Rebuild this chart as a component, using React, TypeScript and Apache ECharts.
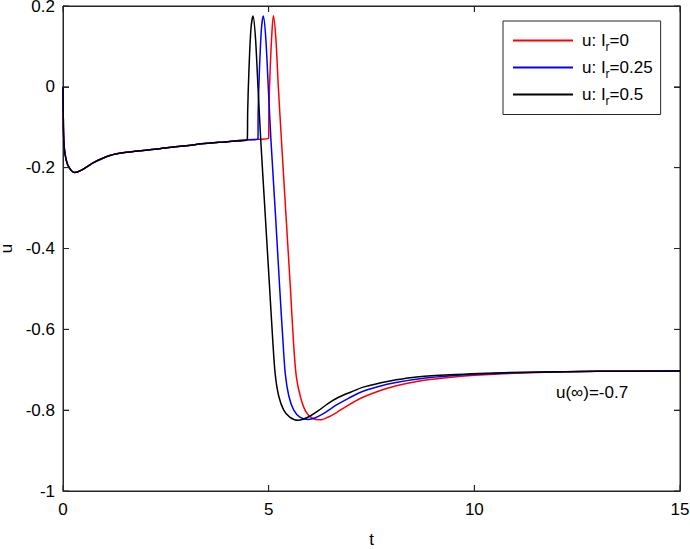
import React, { useEffect, useRef } from "react";
import * as echarts from "echarts";

// Shared early part (all three curves coincide until the first jump)
const commonStart: [number, number][] = [
  [0, 0], [0.01, -0.1], [0.03, -0.15], [0.08, -0.182], [0.15, -0.2], [0.28, -0.212],
  [0.45, -0.206], [0.73, -0.188], [1.14, -0.17], [1.54, -0.162], [2.35, -0.153],
  [3.2, -0.143], [4.05, -0.135], [4.48, -0.131],
];

const blackTail: [number, number][] = [
  [4.49, -0.06], [4.52, 0.04], [4.57, 0.145], [4.62, 0.175], [4.68, 0.12], [4.74, 0.0],
  [4.807, -0.131], [4.916, -0.316], [5.025, -0.501], [5.098, -0.625], [5.159, -0.711],
  [5.244, -0.765], [5.366, -0.8], [5.512, -0.817], [5.71, -0.825], [5.85, -0.822],
  [6.0, -0.815], [6.2, -0.802], [6.45, -0.783], [6.7, -0.768], [7.0, -0.755],
  [7.3, -0.743], [7.7, -0.733], [8.1, -0.725], [8.6, -0.718], [9.3, -0.713],
  [10.1, -0.709], [11.3, -0.706], [13, -0.704], [15, -0.703],
];

const blueTail: [number, number][] = [
  [4.74, -0.13], [4.745, -0.06], [4.775, 0.04], [4.825, 0.145], [4.87, 0.175], [4.93, 0.12],
  [4.99, 0.0], [5.055, -0.131], [5.165, -0.316], [5.27, -0.501], [5.345, -0.625],
  [5.405, -0.711], [5.49, -0.765], [5.61, -0.8], [5.76, -0.817], [5.96, -0.823],
  [6.15, -0.818], [6.4, -0.804], [6.65, -0.787], [6.95, -0.77], [7.25, -0.755],
  [7.65, -0.742], [8.06, -0.732], [8.87, -0.72], [9.69, -0.713], [10.5, -0.709],
  [11.5, -0.706], [13, -0.704], [15, -0.703],
];

const redTail: [number, number][] = [
  [4.74, -0.13], [5.0, -0.127], [5.005, -0.06], [5.035, 0.04], [5.085, 0.145], [5.115, 0.176],
  [5.175, 0.12], [5.235, 0.0], [5.31, -0.131], [5.42, -0.316], [5.53, -0.501],
  [5.6, -0.625], [5.67, -0.715], [5.78, -0.77], [5.91, -0.805], [6.06, -0.82],
  [6.25, -0.824], [6.45, -0.817], [6.65, -0.806], [6.85, -0.793], [7.25, -0.77],
  [7.7, -0.752], [8.06, -0.741], [8.51, -0.731], [8.87, -0.725], [9.69, -0.716],
  [10.5, -0.711], [11.5, -0.707], [13, -0.704], [15, -0.703],
];

const seriesNames = ["u: I_r=0", "u: I_r=0.25", "u: I_r=0.5"];
const legendValues = ["0", "0.25", "0.5"];
const seriesColors = ["#ff0000", "#0000ff", "#000000"];
const seriesData = [
  [...commonStart, ...redTail],
  [...commonStart, ...blueTail],
  [...commonStart, ...blackTail],
];

const xTickValues = [0, 5, 10, 15];
const yTickValues = [-1, -0.8, -0.6, -0.4, -0.2, 0, 0.2];
const xTicks = { min: 0, max: 15, interval: 5 };
const yTicks = { min: -1, max: 0.2, interval: 0.2 };
const annotation = "u(∞)=-0.7";

const FONT = "'Liberation Sans', Arial, Helvetica, sans-serif";
const AXIS_COLOR = "#262626";
const TICK_LEN = 6;

const lineCfg = () => ({ show: true, onZero: false, lineStyle: { color: AXIS_COLOR, width: 1 } });
const tickCfg = () => ({ show: true, inside: true, length: TICK_LEN, lineStyle: { color: AXIS_COLOR, width: 1 } });

export default function App() {
  const ref = useRef<HTMLDivElement>(null);
  useEffect(() => {
    if (!ref.current) return;
    const chart = echarts.init(ref.current, undefined, { renderer: "svg" });
    const tickStyle = { stroke: AXIS_COLOR, lineWidth: 1 };
    chart.setOption({
      animation: false,
      textStyle: { fontFamily: FONT },
      grid: {
        left: 63, right: 10, top: 6, bottom: 58,
        outerBoundsMode: "none",
        show: true,
        borderColor: AXIS_COLOR,
        borderWidth: 1,
        backgroundColor: "transparent",
      },
      xAxis: [
        {
          type: "value", ...xTicks, position: "bottom",
          axisLine: lineCfg(), axisTick: tickCfg(), splitLine: { show: false },
          name: "t", nameLocation: "middle", nameGap: 40,
          nameTextStyle: { fontSize: 17, color: "#000", fontFamily: FONT },
          axisLabel: { fontSize: 17, color: "#000", margin: 10, fontFamily: FONT },
        },
        {
          type: "value", ...xTicks, position: "top",
          axisLine: lineCfg(), axisTick: tickCfg(), splitLine: { show: false },
          axisLabel: { show: false },
        },
      ],
      yAxis: [
        {
          type: "value", ...yTicks, position: "left",
          axisLine: lineCfg(), axisTick: tickCfg(), splitLine: { show: false },
          name: "u", nameLocation: "middle", nameGap: 42,
          nameTextStyle: { fontSize: 17, color: "#000", fontFamily: FONT },
          axisLabel: {
            fontSize: 17, color: "#000", margin: 8, fontFamily: FONT,
            formatter: (v: number) => String(+v.toFixed(1)),
          },
        },
        {
          type: "value", ...yTicks, position: "right",
          axisLine: lineCfg(), axisTick: tickCfg(), splitLine: { show: false },
          axisLabel: { show: false },
        },
      ],
      legend: {
        show: true,
        orient: "vertical",
        left: 503,
        top: 21,
        padding: [11, 8, 8, 10],
        itemWidth: 60,
        itemHeight: 2,
        itemGap: 6.5,
        borderColor: AXIS_COLOR,
        borderWidth: 1,
        backgroundColor: "#fff",
        icon: "path://M0,0 L60,0 L60,2 L0,2 Z",
        data: seriesNames,
        formatter: (name: string) => {
          const i = seriesNames.indexOf(name);
          return `{a|u: I}{s|r}{a|=${legendValues[i]}}`;
        },
        textStyle: {
          fontFamily: FONT,
          fontSize: 17,
          color: "#000",
          padding: [0, 0, 0, 4],
          rich: {
            a: { fontSize: 17, color: "#000", fontFamily: FONT, lineHeight: 24 },
            s: { fontSize: 12, color: "#000", fontFamily: FONT, lineHeight: 12, verticalAlign: "bottom" },
          },
        },
      },
      graphic: [
        {
          type: "text",
          left: 556,
          top: 384,
          style: { text: annotation, fontSize: 17, fill: "#000", fontFamily: FONT },
        },
      ],
      series: [
        ...seriesData.map((d, i) => ({
          name: seriesNames[i],
          type: "line",
          data: d,
          xAxisIndex: 0,
          yAxisIndex: 0,
          showSymbol: false,
          symbol: "none",
          smooth: 0.3,
          lineStyle: { color: seriesColors[i], width: 1.5 },
          itemStyle: { color: seriesColors[i] },
          z: 10 + i,
        })),
        {
          name: "xTickMarks",
          type: "custom",
          silent: true,
          clip: false,
          z: 20,
          data: xTickValues.map((v) => [v, yTicks.min]),
          renderItem: (params: any, api: any) => {
            const cs = params.coordSys;
            const p = api.coord([api.value(0), api.value(1)]);
            const bottom = cs.y + cs.height;
            return {
              type: "group",
              children: [
                { type: "line", shape: { x1: p[0], y1: bottom, x2: p[0], y2: bottom - TICK_LEN }, style: tickStyle },
                { type: "line", shape: { x1: p[0], y1: cs.y, x2: p[0], y2: cs.y + TICK_LEN }, style: tickStyle },
              ],
            };
          },
        },
        {
          name: "yTickMarks",
          type: "custom",
          silent: true,
          clip: false,
          z: 20,
          data: yTickValues.map((v) => [xTicks.min, v]),
          renderItem: (params: any, api: any) => {
            const cs = params.coordSys;
            const p = api.coord([api.value(0), api.value(1)]);
            const right = cs.x + cs.width;
            return {
              type: "group",
              children: [
                { type: "line", shape: { x1: cs.x, y1: p[1], x2: cs.x + TICK_LEN, y2: p[1] }, style: tickStyle },
                { type: "line", shape: { x1: right, y1: p[1], x2: right - TICK_LEN, y2: p[1] }, style: tickStyle },
              ],
            };
          },
        },
      ],
    });
    return () => chart.dispose();
  }, []);
  return (
    <div
      ref={ref}
      style={{ position: "absolute", left: 0, top: 0, width: 690, height: 549, background: "#fff" }}
    />
  );
}
